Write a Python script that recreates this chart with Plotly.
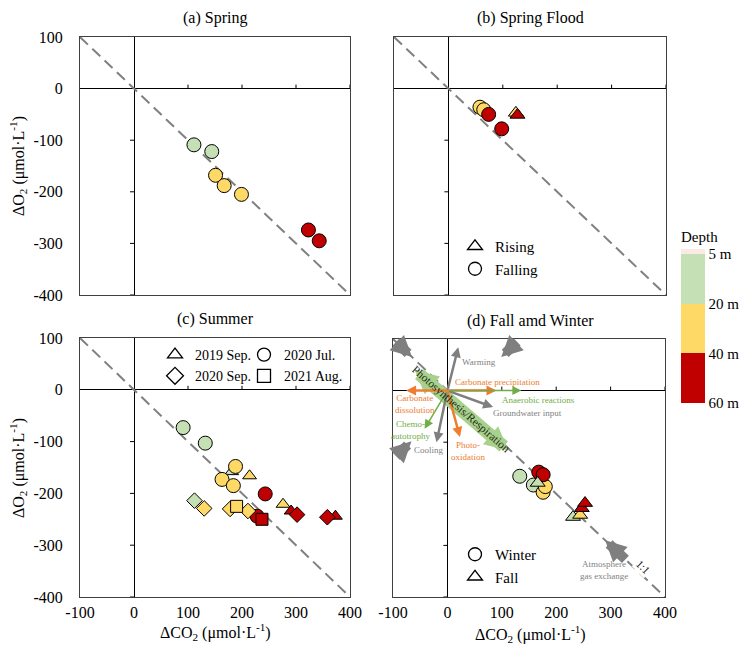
import plotly.graph_objects as go

# ---------------- data ----------------
DEPTH_COLORS = {"5-20 m": "#c5e0b4", "20-40 m": "#ffd966", "40-60 m": "#c00000"}
G, Y, R = "5-20 m", "20-40 m", "40-60 m"

# (a) Spring
spring_co2 = [111, 144, 151, 167, 199, 323, 343]
spring_o2 = [-109, -122, -168, -188, -205, -274, -295]
spring_depth = [G, G, Y, Y, Y, R, R]

# (b) Spring flood
flood_rising_co2 = [124, 127]
flood_rising_o2 = [-47, -51]
flood_rising_depth = [Y, R]
flood_falling_co2 = [58, 65, 74, 98]
flood_falling_o2 = [-36, -41, -50, -78]
flood_falling_depth = [Y, Y, R, R]

# (c) Summer
sep2019_co2 = [181, 214, 276, 291, 373]
sep2019_o2 = [-158, -166, -221, -234, -244]
sep2019_depth = [G, Y, Y, R, R]
jul2020_co2 = [91, 132, 188, 163, 184, 243, 228]
jul2020_o2 = [-73, -103, -148, -173, -185, -201, -244]
jul2020_depth = [G, G, Y, Y, Y, R, R]
sep2020_co2 = [112, 130, 178, 211, 302, 358]
sep2020_o2 = [-214, -229, -230, -234, -241, -246]
sep2020_depth = [G, Y, Y, Y, R, R]
aug2021_co2 = [190, 237]
aug2021_o2 = [-225, -250]
aug2021_depth = [Y, R]

# (d) Fall and winter
winter_co2 = [133, 158, 176, 180, 168, 176]
winter_o2 = [-166, -183, -197, -186, -158, -163]
winter_depth = [G, G, Y, Y, R, R]
fall_co2 = [166, 231, 244, 247, 253]
fall_o2 = [-179, -245, -241, -228, -218]
fall_depth = [G, G, Y, R, R]

# 1:1 line
one_to_one_co2 = [-100, 400]
one_to_one_o2 = [100, -400]

# axes
x_ticks = [-100, 0, 100, 200, 300, 400]
x_ticktext = ["-100", "0", "100", "200", "300", "400"]
y_ticks = [100, 0, -100, -200, -300, -400]
y_ticktext = ["100", "0", "-100", "-200", "-300", "-400"]

# colorbar
depth_labels = ["60 m", "40 m", "20 m", "5 m"]

# process arrows in panel (d)
gas_arrows = [(-97, 97, -65, 65), (131, 97, 99, 65), (-97, -130, -66, -98), (330, -330, 290, -290)]
thin_arrows = [  # tail x, tail y, head x, head y, color, width
    (0, 0, 20, 84, "#7f7f7f", 2.5),
    (0, 0, 84, -32, "#7f7f7f", 2.5),
    (0, 0, -20, -100, "#7f7f7f", 2.5),
    (0, 0, 23, -90, "#ed7d31", 2.5),
    (0, 0, 136, 0, "#70ad47", 1.5),
    (0, 0, -42, -74, "#70ad47", 1.5),
]
arrow_labels = [  # text, x, y, color, align
    ("Warming", 58, 56, "#7f7f7f", "left"),
    ("Carbonate precipitation", 93, 16, "#ed7d31", "center"),
    ("Anaerobic reactions", 168, -19, "#70ad47", "center"),
    ("Groundwater input", 148, -44, "#7f7f7f", "center"),
    ("Carbonate<br>dissolution", -60, -26, "#ed7d31", "center"),
    ("Chemo-<br>autotrophy", -67, -76, "#70ad47", "center"),
    ("Cooling", -34, -115, "#7f7f7f", "center"),
    ("Photo-<br>oxidation", 38, -118, "#ed7d31", "center"),
    ("Atmosphere<br>gas exchange", 287, -348, "#7f7f7f", "center"),
]

FONT = "Liberation Serif"
OFF = 8  # page body margin
W, H = 756 - OFF, 670 - OFF


def fx(p):
    return (p - OFF) / W


def fy(p):
    return 1 - (p - OFF) / H


fig = go.Figure()


def add_points(xs, ys, depths, symbol, size, axis, name):
    fig.add_trace(go.Scatter(
        x=xs, y=ys, mode="markers", name=name, showlegend=False,
        marker=dict(symbol=symbol, size=size, color=[DEPTH_COLORS[d] for d in depths],
                    line=dict(color="black", width=1)),
        xaxis=axis[0], yaxis=axis[1]))


axes = [("x", "y"), ("x2", "y2"), ("x3", "y3"), ("x4", "y4")]

for ax in axes:
    fig.add_trace(go.Scatter(x=one_to_one_co2, y=one_to_one_o2, mode="lines", showlegend=False,
                             line=dict(color="#808080", width=2, dash="11px,6px"),
                             xaxis=ax[0], yaxis=ax[1], hoverinfo="skip"))

add_points(spring_co2, spring_o2, spring_depth, "circle", 14, axes[0], "Spring")
add_points(flood_falling_co2, flood_falling_o2, flood_falling_depth, "circle", 14, axes[1], "Falling")
add_points(flood_rising_co2, flood_rising_o2, flood_rising_depth, "triangle-up", 13, axes[1], "Rising")
add_points(sep2019_co2, sep2019_o2, sep2019_depth, "triangle-up", 12, axes[2], "2019 Sep.")
add_points(jul2020_co2, jul2020_o2, jul2020_depth, "circle", 14, axes[2], "2020 Jul.")
add_points(sep2020_co2, sep2020_o2, sep2020_depth, "diamond", 12, axes[2], "2020 Sep.")
add_points(aug2021_co2, aug2021_o2, aug2021_depth, "square", 12, axes[2], "2021 Aug.")
add_points(winter_co2, winter_o2, winter_depth, "circle", 14, axes[3], "Winter")
add_points(fall_co2, fall_o2, fall_depth, "triangle-up", 13, axes[3], "Fall")


# legend entries
def legend_entry(name, symbol, legend, ax):
    fig.add_trace(go.Scatter(x=[None], y=[None], mode="markers", name=name, legend=legend,
                             marker=dict(symbol=symbol, size=13, color="white",
                                         line=dict(color="black", width=1.3)),
                             xaxis=ax[0], yaxis=ax[1]))


legend_entry("Rising", "triangle-up", "legend", axes[1])
legend_entry("Falling", "circle", "legend", axes[1])
legend_entry("2019 Sep.", "triangle-up", "legend2", axes[2])
legend_entry("2020 Sep.", "diamond", "legend2", axes[2])
legend_entry("2020 Jul.", "circle", "legend3", axes[2])
legend_entry("2021 Aug.", "square", "legend3", axes[2])
legend_entry("Winter", "circle", "legend4", axes[3])
legend_entry("Fall", "triangle-up", "legend4", axes[3])

# colorbar dummy (region includes title above the bar)
cb_top, cb_bot = 228, 403
cscale = [[0, "#c00000"], [1 / 3.1, "#c00000"], [1 / 3.1, "#ffd966"], [2 / 3.1, "#ffd966"],
          [2 / 3.1, "#c5e0b4"], [3 / 3.1, "#c5e0b4"], [3 / 3.1, "#fbeae4"], [1, "#fbeae4"]]
fig.add_trace(go.Scatter(
    x=[None], y=[None], mode="markers", showlegend=False, xaxis="x2", yaxis="y2",
    marker=dict(color=[0], colorscale=cscale, cmin=0, cmax=3.1, showscale=True,
                colorbar=dict(x=fx(681), xanchor="left", thickness=24, len=(cb_bot - cb_top) / H,
                              lenmode="fraction", y=fy(cb_bot), yanchor="bottom",
                              outlinewidth=0, ticks="", tickvals=[0, 1, 2, 3], ticktext=depth_labels,
                              tickfont=dict(family=FONT, size=15, color="black"), xpad=0, ypad=0,
                              title=dict(text="Depth", side="top",
                                         font=dict(family=FONT, size=15, color="black"))))))

# ---------------- layout ----------------
dom = {
    1: ([fx(80), fx(350)], [fy(295), fy(37)]),
    2: ([fx(394), fx(666)], [fy(295), fy(37)]),
    3: ([fx(80), fx(350)], [fy(597), fy(338)]),
    4: ([fx(393), fx(665)], [fy(597), fy(339)]),
}

layout = dict(width=W, height=H, margin=dict(l=0, r=0, t=0, b=0, autoexpand=False),
              plot_bgcolor="white", paper_bgcolor="white",
              font=dict(family=FONT, size=16, color="black"))

for i in range(1, 5):
    sx = "" if i == 1 else str(i)
    xd, yd = dom[i]
    layout["xaxis" + sx] = dict(domain=xd, range=[-100, 400], anchor="y" + sx, showline=True, mirror=True,
                                linecolor="#404040", linewidth=1, showgrid=False, zeroline=True,
                                zerolinecolor="black", zerolinewidth=1, tickvals=x_ticks, ticktext=x_ticktext,
                                showticklabels=(i >= 3), ticks="", ticklabelstandoff=1, automargin=False,
                                tickfont=dict(family=FONT, size=16, color="black"))
    layout["yaxis" + sx] = dict(domain=yd, range=[-400, 100], anchor="x" + sx, showline=True, mirror=True,
                                linecolor="#404040", linewidth=1, showgrid=False, zeroline=True,
                                zerolinecolor="black", zerolinewidth=1, tickvals=y_ticks, ticktext=y_ticktext,
                                showticklabels=(i in (1, 3)), ticks="", ticklabelstandoff=13, automargin=False,
                                tickfont=dict(family=FONT, size=16, color="black"))

legend_common = dict(bgcolor="rgba(0,0,0,0)", borderwidth=0, itemwidth=30, xanchor="left", yanchor="top",
                     tracegroupgap=0, itemclick=False)
layout["legend"] = dict(legend_common, x=fx(455), y=fy(230), font=dict(family=FONT, size=15))
layout["legend2"] = dict(legend_common, x=fx(155), y=fy(339), font=dict(family=FONT, size=14))
layout["legend3"] = dict(legend_common, x=fx(244), y=fy(339), font=dict(family=FONT, size=14))
layout["legend4"] = dict(legend_common, x=fx(455), y=fy(538), font=dict(family=FONT, size=15))

fig.update_layout(**layout)

# tick marks on the zero lines
shapes = []
for i in range(1, 5):
    sx = "" if i == 1 else str(i)
    for xv in [100, 200, 300, 400]:
        shapes.append(dict(type="line", xref="x" + sx, yref="y" + sx, ysizemode="pixel", yanchor=0,
                           x0=xv, x1=xv, y0=0, y1=4, line=dict(color="black", width=1)))
    for yv in [-100, -200, -300, -400]:
        shapes.append(dict(type="line", xref="x" + sx, yref="y" + sx, xsizemode="pixel", xanchor=0,
                           x0=-4, x1=0, y0=yv, y1=yv, line=dict(color="black", width=1)))
fig.update_layout(shapes=shapes)

ann = []
titles = [("(a) Spring", 215, 18), ("(b) Spring Flood", 530, 18), ("(c) Summer", 215, 319),
          ("(d) Fall amd Winter", 530, 321)]
for t, x, y in titles:
    ann.append(dict(text=t, x=fx(x), y=fy(y), xref="paper", yref="paper", showarrow=False,
                    font=dict(family=FONT, size=16, color="black"), xanchor="center", yanchor="middle"))
ytitle = "ΔO<sub>2</sub> (μmol·L<sup>-1</sup>)"
xtitle = "ΔCO<sub>2</sub> (μmol·L<sup>-1</sup>)"
for yc in [166, 468]:
    ann.append(dict(text=ytitle, x=fx(18), y=fy(yc), xref="paper", yref="paper", showarrow=False,
                    xanchor="center", yanchor="middle",
                    textangle=-90, font=dict(family=FONT, size=16, color="black")))
for xc, yc in [(215, 632), (530, 634)]:
    ann.append(dict(text=xtitle, x=fx(xc), y=fy(yc), xref="paper", yref="paper", showarrow=False,
                    xanchor="center", yanchor="middle",
                    font=dict(family=FONT, size=16, color="black")))

# panel (d) process diagram
for tx, ty, hx, hy in gas_arrows:
    ann.append(dict(x=hx, y=hy, ax=tx, ay=ty, xref="x4", yref="y4", axref="x4", ayref="y4", text="",
                    showarrow=True, arrowhead=2, arrowsize=0.42, arrowwidth=10, arrowcolor="#7f7f7f"))
ann.append(dict(x=112, y=-116, ax=-63, ay=42, xref="x4", yref="y4", axref="x4", ayref="y4", text="",
                showarrow=True, arrowhead=2, arrowside="end+start", arrowsize=0.36, arrowwidth=13,
                arrowcolor="#a9d18e"))
ann.append(dict(x=-76, y=0, ax=93, ay=0, xref="x4", yref="y4", axref="x4", ayref="y4", text="",
                showarrow=True, arrowhead=2, arrowside="end+start", arrowsize=0.8, arrowwidth=2.5,
                arrowcolor="#ed7d31"))
for tx, ty, hx, hy, col, wd in thin_arrows:
    ann.append(dict(x=hx, y=hy, ax=tx, ay=ty, xref="x4", yref="y4", axref="x4", ayref="y4", text="",
                    showarrow=True, arrowhead=2, arrowsize=1.2 if wd < 2 else 0.8, arrowwidth=wd,
                    arrowcolor=col))
ann.append(dict(text="Photosynthesis/Respiration", x=25, y=-37, xref="x4", yref="y4", showarrow=False,
                textangle=41, font=dict(family=FONT, size=11.5, color="#1f2f12")))
for t, x, y, col, al in arrow_labels:
    ann.append(dict(text=t, x=x, y=y, xref="x4", yref="y4", showarrow=False, align=al,
                    font=dict(family=FONT, size=9, color=col)))
ann.append(dict(text="1:1", x=360, y=-342, xref="x4", yref="y4", showarrow=False, textangle=45,
                bgcolor="white", font=dict(family=FONT, size=11, color="black")))
fig.update_layout(annotations=ann)

fig.write_html("out.html")
